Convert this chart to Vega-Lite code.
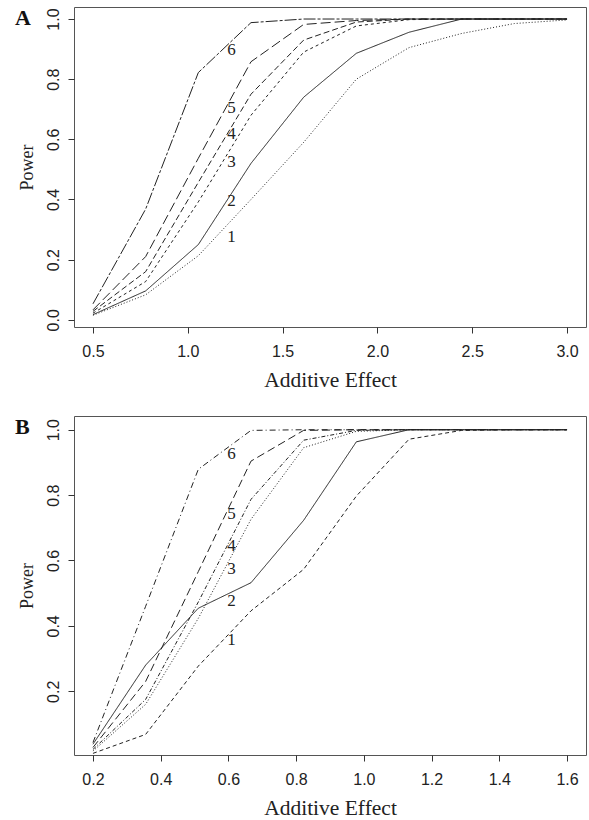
{
  "$schema": "https://vega.github.io/schema/vega-lite/v6.json",
  "padding": {"left": 14, "top": 6, "right": 4, "bottom": 5},
  "background": "white",
  "datasets": {
    "panelA": [
      {"x": 0.5, "power": 0.015, "series": "1"}, {"x": 0.7778, "power": 0.083, "series": "1"}, {"x": 1.0556, "power": 0.213, "series": "1"}, {"x": 1.3333, "power": 0.40, "series": "1"}, {"x": 1.6111, "power": 0.59, "series": "1"}, {"x": 1.8889, "power": 0.80, "series": "1"}, {"x": 2.1667, "power": 0.905, "series": "1"}, {"x": 2.4444, "power": 0.952, "series": "1"}, {"x": 2.7222, "power": 0.985, "series": "1"}, {"x": 3.0, "power": 0.997, "series": "1"},
      {"x": 0.5, "power": 0.017, "series": "2"}, {"x": 0.7778, "power": 0.096, "series": "2"}, {"x": 1.0556, "power": 0.25, "series": "2"}, {"x": 1.3333, "power": 0.52, "series": "2"}, {"x": 1.6111, "power": 0.74, "series": "2"}, {"x": 1.8889, "power": 0.886, "series": "2"}, {"x": 2.1667, "power": 0.956, "series": "2"}, {"x": 2.4444, "power": 1.0, "series": "2"}, {"x": 2.7222, "power": 1.0, "series": "2"}, {"x": 3.0, "power": 1.0, "series": "2"},
      {"x": 0.5, "power": 0.022, "series": "3"}, {"x": 0.7778, "power": 0.127, "series": "3"}, {"x": 1.0556, "power": 0.392, "series": "3"}, {"x": 1.3333, "power": 0.68, "series": "3"}, {"x": 1.6111, "power": 0.89, "series": "3"}, {"x": 1.8889, "power": 0.977, "series": "3"}, {"x": 2.1667, "power": 0.998, "series": "3"}, {"x": 2.4444, "power": 1.0, "series": "3"}, {"x": 2.7222, "power": 1.0, "series": "3"}, {"x": 3.0, "power": 1.0, "series": "3"},
      {"x": 0.5, "power": 0.028, "series": "4"}, {"x": 0.7778, "power": 0.16, "series": "4"}, {"x": 1.0556, "power": 0.457, "series": "4"}, {"x": 1.3333, "power": 0.75, "series": "4"}, {"x": 1.6111, "power": 0.93, "series": "4"}, {"x": 1.8889, "power": 0.99, "series": "4"}, {"x": 2.1667, "power": 1.0, "series": "4"}, {"x": 2.4444, "power": 1.0, "series": "4"}, {"x": 2.7222, "power": 1.0, "series": "4"}, {"x": 3.0, "power": 1.0, "series": "4"},
      {"x": 0.5, "power": 0.033, "series": "5"}, {"x": 0.7778, "power": 0.21, "series": "5"}, {"x": 1.0556, "power": 0.537, "series": "5"}, {"x": 1.3333, "power": 0.858, "series": "5"}, {"x": 1.6111, "power": 0.982, "series": "5"}, {"x": 1.8889, "power": 0.995, "series": "5"}, {"x": 2.1667, "power": 1.0, "series": "5"}, {"x": 2.4444, "power": 1.0, "series": "5"}, {"x": 2.7222, "power": 1.0, "series": "5"}, {"x": 3.0, "power": 1.0, "series": "5"},
      {"x": 0.5, "power": 0.053, "series": "6"}, {"x": 0.7778, "power": 0.368, "series": "6"}, {"x": 1.0556, "power": 0.822, "series": "6"}, {"x": 1.3333, "power": 0.988, "series": "6"}, {"x": 1.6111, "power": 1.0, "series": "6"}, {"x": 1.8889, "power": 1.0, "series": "6"}, {"x": 2.1667, "power": 1.0, "series": "6"}, {"x": 2.4444, "power": 1.0, "series": "6"}, {"x": 2.7222, "power": 1.0, "series": "6"}, {"x": 3.0, "power": 1.0, "series": "6"}
    ],
    "labelsA": [
      {"x": 1.23, "power": 0.276, "series": "1"}, {"x": 1.23, "power": 0.395, "series": "2"}, {"x": 1.23, "power": 0.525, "series": "3"}, {"x": 1.23, "power": 0.618, "series": "4"}, {"x": 1.23, "power": 0.704, "series": "5"}, {"x": 1.23, "power": 0.897, "series": "6"}
    ],
    "panelB": [
      {"x": 0.2, "power": 0.01, "series": "1"}, {"x": 0.3556, "power": 0.068, "series": "1"}, {"x": 0.5111, "power": 0.277, "series": "1"}, {"x": 0.6667, "power": 0.446, "series": "1"}, {"x": 0.8222, "power": 0.573, "series": "1"}, {"x": 0.9778, "power": 0.797, "series": "1"}, {"x": 1.1333, "power": 0.971, "series": "1"}, {"x": 1.2889, "power": 0.998, "series": "1"}, {"x": 1.4444, "power": 1.0, "series": "1"}, {"x": 1.6, "power": 1.0, "series": "1"},
      {"x": 0.2, "power": 0.038, "series": "2"}, {"x": 0.3556, "power": 0.28, "series": "2"}, {"x": 0.5111, "power": 0.454, "series": "2"}, {"x": 0.6667, "power": 0.532, "series": "2"}, {"x": 0.8222, "power": 0.723, "series": "2"}, {"x": 0.9778, "power": 0.963, "series": "2"}, {"x": 1.1333, "power": 1.0, "series": "2"}, {"x": 1.2889, "power": 1.0, "series": "2"}, {"x": 1.4444, "power": 1.0, "series": "2"}, {"x": 1.6, "power": 1.0, "series": "2"},
      {"x": 0.2, "power": 0.017, "series": "3"}, {"x": 0.3556, "power": 0.16, "series": "3"}, {"x": 0.5111, "power": 0.423, "series": "3"}, {"x": 0.6667, "power": 0.726, "series": "3"}, {"x": 0.8222, "power": 0.945, "series": "3"}, {"x": 0.9778, "power": 0.995, "series": "3"}, {"x": 1.1333, "power": 1.0, "series": "3"}, {"x": 1.2889, "power": 1.0, "series": "3"}, {"x": 1.4444, "power": 1.0, "series": "3"}, {"x": 1.6, "power": 1.0, "series": "3"},
      {"x": 0.2, "power": 0.022, "series": "4"}, {"x": 0.3556, "power": 0.175, "series": "4"}, {"x": 0.5111, "power": 0.473, "series": "4"}, {"x": 0.6667, "power": 0.787, "series": "4"}, {"x": 0.8222, "power": 0.968, "series": "4"}, {"x": 0.9778, "power": 0.998, "series": "4"}, {"x": 1.1333, "power": 1.0, "series": "4"}, {"x": 1.2889, "power": 1.0, "series": "4"}, {"x": 1.4444, "power": 1.0, "series": "4"}, {"x": 1.6, "power": 1.0, "series": "4"},
      {"x": 0.2, "power": 0.028, "series": "5"}, {"x": 0.3556, "power": 0.23, "series": "5"}, {"x": 0.5111, "power": 0.566, "series": "5"}, {"x": 0.6667, "power": 0.904, "series": "5"}, {"x": 0.8222, "power": 0.998, "series": "5"}, {"x": 0.9778, "power": 1.0, "series": "5"}, {"x": 1.1333, "power": 1.0, "series": "5"}, {"x": 1.2889, "power": 1.0, "series": "5"}, {"x": 1.4444, "power": 1.0, "series": "5"}, {"x": 1.6, "power": 1.0, "series": "5"},
      {"x": 0.2, "power": 0.043, "series": "6"}, {"x": 0.3556, "power": 0.46, "series": "6"}, {"x": 0.5111, "power": 0.879, "series": "6"}, {"x": 0.6667, "power": 0.998, "series": "6"}, {"x": 0.8222, "power": 1.0, "series": "6"}, {"x": 0.9778, "power": 1.0, "series": "6"}, {"x": 1.1333, "power": 1.0, "series": "6"}, {"x": 1.2889, "power": 1.0, "series": "6"}, {"x": 1.4444, "power": 1.0, "series": "6"}, {"x": 1.6, "power": 1.0, "series": "6"}
    ],
    "labelsB": [
      {"x": 0.609, "power": 0.356, "series": "1"}, {"x": 0.609, "power": 0.476, "series": "2"}, {"x": 0.609, "power": 0.573, "series": "3"}, {"x": 0.609, "power": 0.644, "series": "4"}, {"x": 0.609, "power": 0.741, "series": "5"}, {"x": 0.609, "power": 0.925, "series": "6"}
    ]
  },
  "config": {
    "view": {"stroke": "#555", "strokeWidth": 1},
    "axis": {
      "domain": false, "grid": false,
      "tickColor": "#333", "tickSize": 6, "tickWidth": 1,
      "labelFont": "Liberation Sans", "labelFontSize": 16, "labelColor": "#222",
      "titleFont": "Liberation Serif", "titleFontWeight": "normal", "titleColor": "#222"
    },
    "axisX": {"labelPadding": 10, "titlePadding": 10, "titleFontSize": 21.5},
    "axisY": {"labelAngle": 270, "labelAlign": "center", "labelBaseline": "bottom", "labelPadding": 7, "titlePadding": 9, "titleFontSize": 18},
    "title": {"font": "Liberation Serif", "fontSize": 22, "fontWeight": "bold", "color": "#111", "anchor": "start", "frame": "bounds", "offset": -23, "dx": -3, "baseline": "alphabetic"}
  },
  "resolve": {"scale": {"strokeDash": "independent"}},
  "spacing": 24,
  "vconcat": [
    {
      "width": 512, "height": 320,
      "title": {"text": "A"},
      "layer": [
        {
          "data": {"name": "panelA"},
          "mark": {"type": "line", "color": "#222", "strokeWidth": 1},
          "encoding": {
            "x": {"field": "x", "type": "quantitative", "scale": {"domain": [0.4, 3.1], "nice": false, "zero": false}, "axis": {"title": "Additive Effect", "values": [0.5, 1.0, 1.5, 2.0, 2.5, 3.0], "format": ".1f"}},
            "y": {"field": "power", "type": "quantitative", "scale": {"domain": [-0.024, 1.04], "nice": false, "zero": false}, "axis": {"title": "Power", "values": [0, 0.2, 0.4, 0.6, 0.8, 1.0], "format": ".1f"}},
            "detail": {"field": "series"},
            "strokeDash": {"field": "series", "type": "nominal", "legend": null, "scale": {"domain": ["1", "2", "3", "4", "5", "6"], "range": [[1, 2], [1, 0], [3, 3], [6, 3], [10, 4], [12, 2, 3, 2]]}}
          }
        },
        {
          "data": {"name": "labelsA"},
          "mark": {"type": "text", "font": "Liberation Serif", "fontSize": 17, "color": "#222"},
          "encoding": {
            "x": {"field": "x", "type": "quantitative"},
            "y": {"field": "power", "type": "quantitative"},
            "text": {"field": "series"}
          }
        }
      ]
    },
    {
      "width": 512, "height": 339,
      "title": {"text": "B"},
      "layer": [
        {
          "data": {"name": "panelB"},
          "mark": {"type": "line", "color": "#222", "strokeWidth": 1},
          "encoding": {
            "x": {"field": "x", "type": "quantitative", "scale": {"domain": [0.144, 1.656], "nice": false, "zero": false}, "axis": {"title": "Additive Effect", "values": [0.2, 0.4, 0.6, 0.8, 1.0, 1.2, 1.4, 1.6], "format": ".1f"}},
            "y": {"field": "power", "type": "quantitative", "scale": {"domain": [0.005, 1.042], "nice": false, "zero": false}, "axis": {"title": "Power", "values": [0.2, 0.4, 0.6, 0.8, 1.0], "format": ".1f"}},
            "detail": {"field": "series"},
            "strokeDash": {"field": "series", "type": "nominal", "legend": null, "scale": {"domain": ["1", "2", "3", "4", "5", "6"], "range": [[4, 3], [1, 0], [1, 2], [4, 2, 1, 2], [8, 4], [6, 3, 1, 3]]}}
          }
        },
        {
          "data": {"name": "labelsB"},
          "mark": {"type": "text", "font": "Liberation Serif", "fontSize": 17, "color": "#222"},
          "encoding": {
            "x": {"field": "x", "type": "quantitative"},
            "y": {"field": "power", "type": "quantitative"},
            "text": {"field": "series"}
          }
        }
      ]
    }
  ]
}
